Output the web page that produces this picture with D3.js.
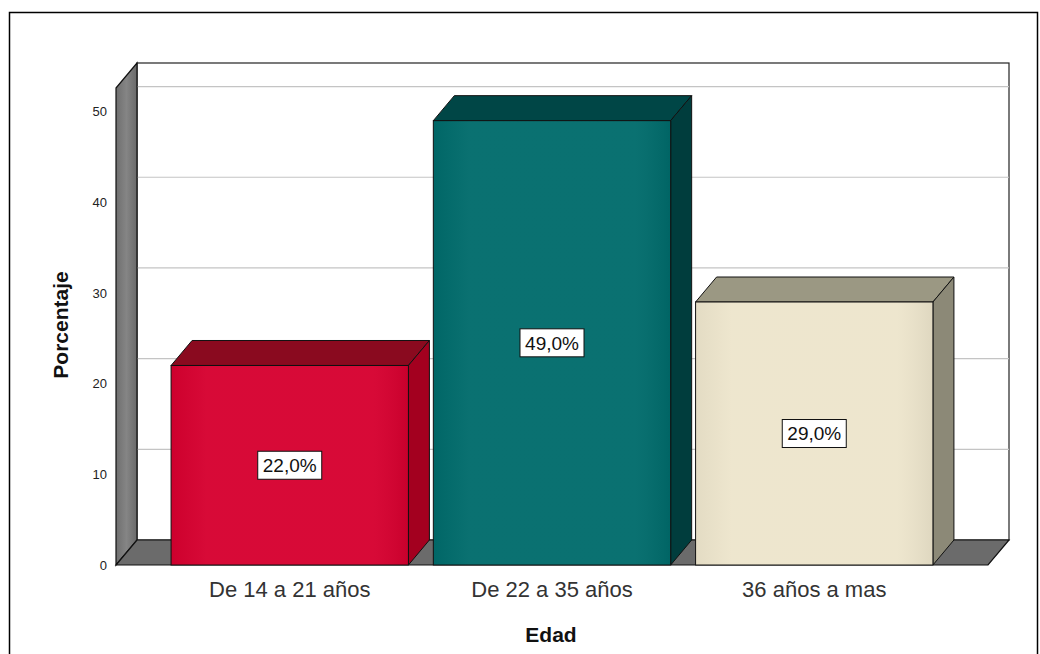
<!DOCTYPE html>
<html>
<head>
<meta charset="utf-8">
<script src="https://cdn.jsdelivr.net/npm/d3@7"></script>
<style>
  body { margin: 0; background: #fff; }
  svg text { font-family: "Liberation Sans", Arial, sans-serif; }
</style>
</head>
<body>
<div id="chart"></div>
<script>
// data
var categories = ["De 14 a 21 años", "De 22 a 35 años", "36 años a mas"]
var values = [22, 49, 29]
var yTicks = [0, 10, 20, 30, 40, 50]
var frontColors = ["#d6002f", "#006b6b", "#ede5cc"]
var topColors = ["#8a0a1f", "#004646", "#9b9883"]
var sideColors = ["#a3001f", "#003d3d", "#8c8977"]

var screen = {width: 1040, height: 654}
var depth = {dx: 21, dy: -25}   // 3d offset for the back plane

var svg = d3.select("#chart")
  .append("svg")
  .attr("width", screen.width)
  .attr("height", screen.height)

// outer frame
svg.append("rect")
  .attr("x", 9.5).attr("y", 12.5)
  .attr("width", 1028).attr("height", 660)
  .attr("fill", "none")
  .attr("stroke", "#000")
  .attr("stroke-width", 1.5)

// scales (front plane)
var xScale = d3.scaleBand()
  .domain(categories)
  .range([116, 988])
  .paddingInner(0.095)
  .paddingOuter(0.21)

var yScale = d3.scaleLinear()
  .domain([0, 52.6])
  .range([565, 88])

var x0 = xScale.range()[0], x1 = xScale.range()[1]
var y0 = yScale(0), yTop = yScale(52.6)

var pts = function(arr) { return arr.map(function(p) { return p.join(",") }).join(" ") }

var defs = svg.append("defs")

// back wall
svg.append("rect")
  .attr("x", x0 + depth.dx).attr("y", yTop + depth.dy)
  .attr("width", x1 - x0).attr("height", y0 - yTop)
  .attr("fill", "#fff")
  .attr("stroke", "#222")
  .attr("stroke-width", 1.2)

// gridlines on back wall
svg.append("g")
  .selectAll("line")
  .data(yTicks.filter(function(d) { return d > 0 }))
  .enter()
  .append("line")
  .attr("x1", x0 + depth.dx).attr("x2", x1 + depth.dx)
  .attr("y1", function(d) { return yScale(d) + depth.dy })
  .attr("y2", function(d) { return yScale(d) + depth.dy })
  .attr("stroke", "#c4c4c4")
  .attr("stroke-width", 1.2)

// left side wall
var wallGrad = defs.append("linearGradient")
  .attr("id", "wallGrad").attr("x1", 0).attr("x2", 1).attr("y1", 0).attr("y2", 0)
wallGrad.append("stop").attr("offset", "0%").attr("stop-color", "#6f6f6f")
wallGrad.append("stop").attr("offset", "50%").attr("stop-color", "#858585")
wallGrad.append("stop").attr("offset", "100%").attr("stop-color", "#6a6a6a")

svg.append("polygon")
  .attr("points", pts([[x0, yTop], [x0 + depth.dx, yTop + depth.dy], [x0 + depth.dx, y0 + depth.dy], [x0, y0]]))
  .attr("fill", "url(#wallGrad)")
  .attr("stroke", "#111")
  .attr("stroke-width", 1.2)

// floor
svg.append("polygon")
  .attr("points", pts([[x0, y0], [x1, y0], [x1 + depth.dx, y0 + depth.dy], [x0 + depth.dx, y0 + depth.dy]]))
  .attr("fill", "#6b6b6b")
  .attr("stroke", "#111")
  .attr("stroke-width", 1.2)

// soft bevel on the bar fronts
var shade = defs.append("linearGradient")
  .attr("id", "shade").attr("x1", 0).attr("x2", 1).attr("y1", 0).attr("y2", 0)
shade.append("stop").attr("offset", "0%").attr("stop-color", "#000").attr("stop-opacity", 0.04)
shade.append("stop").attr("offset", "15%").attr("stop-color", "#fff").attr("stop-opacity", 0.04)
shade.append("stop").attr("offset", "85%").attr("stop-color", "#fff").attr("stop-opacity", 0.04)
shade.append("stop").attr("offset", "100%").attr("stop-color", "#000").attr("stop-opacity", 0.06)

// bars
var bars = svg.append("g")
  .selectAll("g")
  .data(values)
  .enter()
  .append("g")

bars.append("polygon")  // top face
  .attr("points", function(d, i) {
    var a = xScale(categories[i]), b = a + xScale.bandwidth(), t = yScale(d)
    return pts([[a, t], [b, t], [b + depth.dx, t + depth.dy], [a + depth.dx, t + depth.dy]])
  })
  .attr("fill", function(d, i) { return topColors[i] })
  .attr("stroke", "#111").attr("stroke-width", 1)

bars.append("polygon")  // right side face
  .attr("points", function(d, i) {
    var b = xScale(categories[i]) + xScale.bandwidth(), t = yScale(d)
    return pts([[b, t], [b + depth.dx, t + depth.dy], [b + depth.dx, y0 + depth.dy], [b, y0]])
  })
  .attr("fill", function(d, i) { return sideColors[i] })
  .attr("stroke", "#111").attr("stroke-width", 1)

bars.append("rect")  // front face
  .attr("x", function(d, i) { return xScale(categories[i]) })
  .attr("y", function(d) { return yScale(d) })
  .attr("width", xScale.bandwidth())
  .attr("height", function(d) { return y0 - yScale(d) })
  .attr("fill", function(d, i) { return frontColors[i] })
  .attr("stroke", "#111").attr("stroke-width", 1)

bars.append("rect")
  .attr("x", function(d, i) { return xScale(categories[i]) + 0.5 })
  .attr("y", function(d) { return yScale(d) + 0.5 })
  .attr("width", xScale.bandwidth() - 1)
  .attr("height", function(d) { return y0 - yScale(d) - 1 })
  .attr("fill", "url(#shade)")

// value labels
var fmt = function(v) { return d3.format(".1f")(v).replace(".", ",") + "%" }

var labels = bars.append("g")
  .attr("transform", function(d, i) {
    return "translate(" + (xScale(categories[i]) + xScale.bandwidth() / 2) + "," + ((yScale(d) + y0) / 2) + ")"
  })

labels.append("rect")
  .attr("x", -32).attr("y", -14)
  .attr("width", 64).attr("height", 28)
  .attr("fill", "#fff")
  .attr("stroke", "#111").attr("stroke-width", 1)

labels.append("text")
  .attr("text-anchor", "middle")
  .attr("dy", "0.36em")
  .attr("font-size", 19)
  .attr("fill", "#111")
  .text(fmt)

// y axis tick labels
svg.append("g")
  .selectAll("text")
  .data(yTicks)
  .enter()
  .append("text")
  .attr("x", 107)
  .attr("y", function(d) { return yScale(d) })
  .attr("dy", "0.36em")
  .attr("text-anchor", "end")
  .attr("font-size", 13)
  .attr("fill", "#222")
  .text(function(d) { return d })

// category labels
svg.append("g")
  .selectAll("text")
  .data(categories)
  .enter()
  .append("text")
  .attr("x", function(d) { return xScale(d) + xScale.bandwidth() / 2 })
  .attr("y", 589)
  .attr("dy", "0.36em")
  .attr("text-anchor", "middle")
  .attr("font-size", 22)
  .attr("fill", "#333")
  .text(function(d) { return d })

// axis titles
svg.append("text")
  .attr("x", 551).attr("y", 634)
  .attr("dy", "0.36em")
  .attr("text-anchor", "middle")
  .attr("font-size", 21)
  .attr("font-weight", "bold")
  .attr("fill", "#111")
  .text("Edad")

svg.append("text")
  .attr("transform", "translate(60,325) rotate(-90)")
  .attr("dy", "0.36em")
  .attr("text-anchor", "middle")
  .attr("font-size", 21)
  .attr("font-weight", "bold")
  .attr("fill", "#111")
  .text("Porcentaje")
</script>
</body>
</html>
